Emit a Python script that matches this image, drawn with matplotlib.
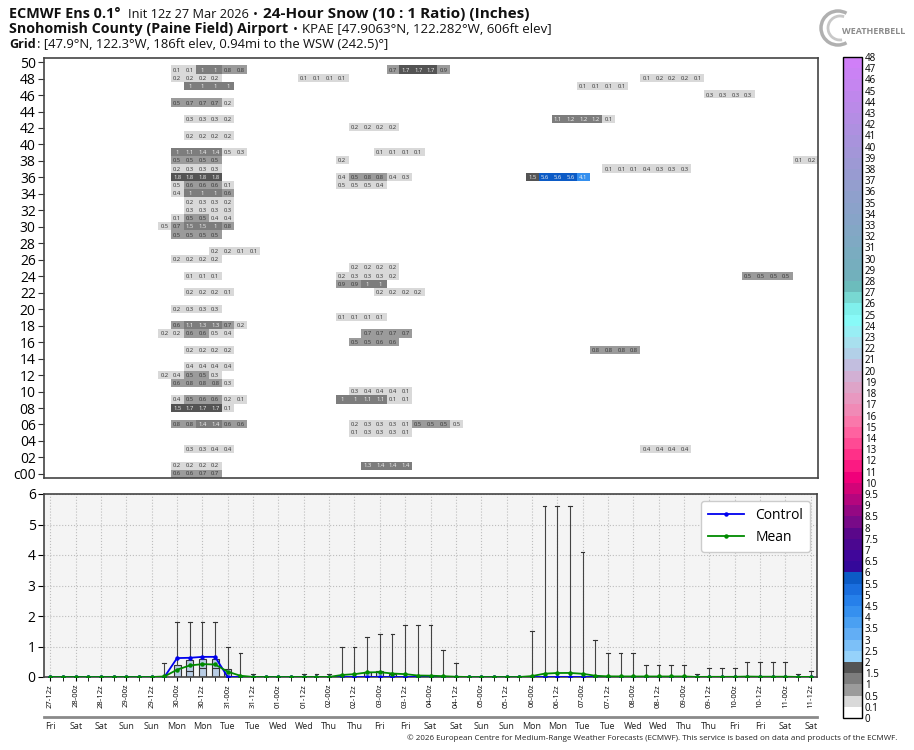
import numpy as np
import pandas as pd
import matplotlib
matplotlib.use('Agg')
import matplotlib.pyplot as plt
from matplotlib import font_manager
from matplotlib.colors import ListedColormap, BoundaryNorm, LinearSegmentedColormap, to_hex
from matplotlib.cm import ScalarMappable
from matplotlib.transforms import IdentityTransform
from matplotlib.patches import Arc


def weight_num(w):
    if isinstance(w, str):
        return font_manager.weight_dict.get(w, 400)
    return w


# pick a sans family that actually ships a bold face
candidates = ['Open Sans', 'Noto Sans', 'Lato', 'Roboto', 'DejaVu Sans']
families = {f.name for f in font_manager.fontManager.ttflist}
main_font = next(c for c in candidates if c in families)
bold_font = next(c for c in candidates
                 if any(f.name == c and weight_num(f.weight) >= 600
                        for f in font_manager.fontManager.ttflist))
plt.rcParams['font.family'] = [main_font, 'DejaVu Sans']

# ---------------------------------------------------------------- data
n_members = 51          # c00 + 50 perturbed members
n_steps = 61            # 6-hourly, 27-12z .. 11-12z
init_time = '2026-03-27 12:00'

# 24-hour snow (inches) per member: (member, first 6h step, values)
runs_late_march = [
    (49, 10, [0.1, 0.1, 1, 1, 0.8, 0.8]),
    (48, 10, [0.2, 0.2, 0.2, 0.2]),
    (47, 11, [1, 1, 1, 1]),
    (45, 10, [0.5, 0.7, 0.7, 0.7, 0.2]),
    (43, 11, [0.3, 0.3, 0.3, 0.2]),
    (41, 11, [0.2, 0.2, 0.2, 0.2]),
    (39, 10, [1, 1.1, 1.4, 1.4, 0.46, 0.3]),
    (38, 10, [0.5, 0.5, 0.5, 0.5]),
    (37, 10, [0.2, 0.3, 0.3, 0.3]),
    (36, 10, [1.8, 1.8, 1.8, 1.8]),
    (35, 10, [0.46, 0.6, 0.6, 0.6, 0.1]),
    (34, 10, [0.4, 1, 1, 1, 0.6]),
    (33, 11, [0.2, 0.3, 0.3, 0.2]),
    (32, 11, [0.3, 0.3, 0.3, 0.3]),
    (31, 10, [0.1, 0.5, 0.5, 0.4, 0.4]),
    (30, 9, [0.46, 0.7, 1.46, 1.46, 1, 0.8]),
    (29, 10, [0.5, 0.5, 0.5, 0.5]),
    (27, 13, [0.2, 0.2, 0.1, 0.1]),
    (26, 10, [0.2, 0.2, 0.2, 0.2]),
    (24, 11, [0.1, 0.1, 0.1]),
    (22, 11, [0.2, 0.2, 0.2, 0.1]),
    (20, 10, [0.2, 0.3, 0.3, 0.3]),
    (18, 10, [0.6, 1.1, 1.3, 1.3, 0.7, 0.2]),
    (17, 9, [0.2, 0.2, 0.6, 0.6, 0.46, 0.4]),
    (15, 11, [0.2, 0.2, 0.2, 0.2]),
    (13, 11, [0.4, 0.4, 0.4, 0.4]),
    (12, 9, [0.2, 0.4, 0.5, 0.5, 0.3]),
    (11, 10, [0.6, 0.8, 0.8, 0.8, 0.3]),
    (9, 10, [0.4, 0.5, 0.6, 0.6, 0.2, 0.1]),
    (8, 10, [1.5, 1.7, 1.7, 1.7, 0.1]),
    (6, 10, [0.8, 0.8, 1.4, 1.4, 0.6, 0.6]),
    (3, 11, [0.3, 0.3, 0.4, 0.4]),
    (1, 10, [0.2, 0.2, 0.2, 0.2]),
    (0, 10, [0.62, 0.63, 0.66, 0.66]),
]

runs_early_april = [
    (49, 27, [0.7, 1.7, 1.7, 1.7, 0.9]),
    (48, 20, [0.1, 0.1, 0.1, 0.1]),
    (42, 24, [0.2, 0.2, 0.2, 0.2]),
    (39, 26, [0.1, 0.1, 0.1, 0.1]),
    (38, 23, [0.2]),
    (36, 23, [0.4, 0.5, 0.8, 0.8, 0.4, 0.3]),
    (35, 23, [0.46, 0.46, 0.46, 0.4]),
    (25, 24, [0.2, 0.2, 0.2, 0.2]),
    (24, 23, [0.2, 0.3, 0.3, 0.3, 0.2]),
    (23, 23, [0.9, 0.9, 1, 1]),
    (22, 26, [0.2, 0.2, 0.2, 0.2]),
    (19, 23, [0.1, 0.1, 0.1, 0.1]),
    (17, 25, [0.7, 0.7, 0.7, 0.7]),
    (16, 24, [0.5, 0.5, 0.6, 0.6]),
    (10, 24, [0.3, 0.4, 0.4, 0.4, 0.1]),
    (9, 23, [1, 1, 1.1, 1.1, 0.1, 0.1]),
    (6, 24, [0.2, 0.3, 0.3, 0.3, 0.1, 0.5, 0.5, 0.5, 0.46]),
    (5, 24, [0.1, 0.3, 0.3, 0.3, 0.1]),
    (1, 25, [1.3, 1.4, 1.4, 1.4]),
]

runs_mid_april = [
    (48, 47, [0.1, 0.2, 0.2, 0.2, 0.1]),
    (47, 42, [0.1, 0.1, 0.1, 0.1]),
    (46, 52, [0.3, 0.3, 0.3, 0.3]),
    (43, 40, [1.1, 1.2, 1.2, 1.2, 0.1]),
    (38, 59, [0.1, 0.2]),
    (37, 44, [0.1, 0.1, 0.1, 0.4, 0.3, 0.3, 0.3]),
    (36, 38, [1.5, 5.6, 5.6, 5.6, 4.1]),
    (24, 55, [0.5, 0.5, 0.5, 0.5]),
    (15, 43, [0.8, 0.8, 0.8, 0.8]),
    (3, 47, [0.4, 0.4, 0.4, 0.4]),
]

# colour scale boundaries (inches)
levels = [0, 0.1] + list(np.arange(0.5, 10.01, 0.5)) + list(range(11, 49))

# ---------------------------------------------------------------- build grid
grid = np.zeros((n_members, n_steps))
for runs in (runs_late_march, runs_early_april, runs_mid_april):
    for member, start, vals in runs:
        grid[member, start:start + len(vals)] = vals

steps = np.arange(n_steps)
times = pd.date_range(init_time, periods=n_steps, freq='6h')
label_idx = steps[::2]
time_labels = [t.strftime('%d-%Hz') for t in times[::2]]
day_labels = [t.strftime('%a') for t in times[::2]]

control = grid[0]
ens_mean = grid.mean(axis=0)

# ---------------------------------------------------------------- colormap
base_cols = ['#ffffff', '#d9d9d9', '#9b9b9b', '#7d7d7d', '#545454',
             '#96d2fa', '#7cc0f8', '#62aef5', '#4aa0f2', '#3590ef', '#2680ea', '#1a6ede', '#0c5bc6',
             '#34089a', '#40069a', '#4b0790', '#5a078a', '#780a88', '#940883', '#b4067e', '#d20478',
             '#f0007a', '#fb1a82', '#ff3088', '#ff4a94', '#ff62a0', '#fa78ab', '#f08ab6', '#e898c0',
             '#dea4c8', '#d2b0d4', '#c2bedf', '#b2d0e8', '#a8e0ee', '#98eef4', '#88faf8', '#80f0ec',
             '#78d8d2', '#6cbcbc']
tail = LinearSegmentedColormap.from_list('tail', ['#72b0bc', '#9a9ad2', '#d07ff8'])
n_tail = len(levels) - 1 - len(base_cols)
tail_cols = [to_hex(tail(v)) for v in np.linspace(0, 1, n_tail)]
cmap = ListedColormap(base_cols + tail_cols)
norm = BoundaryNorm(levels, cmap.N)


def fmt_val(v):
    s = f'{v:.1f}'
    return s[:-2] if s.endswith('.0') else s


# ---------------------------------------------------------------- figure
W, H = 914, 750
fig = plt.figure(figsize=(W / 100, H / 100), dpi=100)


def px_axes(left, top, right, bottom):
    return fig.add_axes([left / W, 1 - bottom / H, (right - left) / W, (bottom - top) / H])


# ---- top panel: member grid
ax1 = px_axes(44, 58, 818, 478)
ax1.imshow(grid, cmap=cmap, norm=norm, origin='lower', aspect='auto',
           interpolation='nearest', extent=(-0.5, n_steps - 0.5, -0.5, n_members - 0.5))
rows, cols = np.nonzero(grid)
for r, c in zip(rows, cols):
    v = grid[r, c]
    ax1.text(c, r, fmt_val(v), ha='center', va='center', fontsize=4.2,
             color='#f2f2f2' if v >= 1 else '#333333')
ax1.set_xlim(-0.5, n_steps - 0.5)
ax1.set_ylim(-0.5, n_members - 0.5)
ax1.set_xticks([])
ax1.set_yticks(np.arange(0, n_members, 2))
ax1.set_yticklabels(['c00'] + [f'{m:02d}' for m in range(2, n_members, 2)])
ax1.tick_params(axis='y', labelsize=10, length=4, pad=2, color='#333')
for sp in ax1.spines.values():
    sp.set_color('#444')
    sp.set_linewidth(1.2)

# ---- bottom panel: box plot + control / mean
ax2 = px_axes(44, 494, 817, 677)
ax2.set_facecolor('#f4f4f4')
ax2.boxplot([grid[:, i] for i in steps], positions=steps, widths=0.55, whis=(0, 100),
            patch_artist=True, showfliers=False, manage_ticks=False, capwidths=0.3,
            boxprops=dict(facecolor='#b9cde5', edgecolor='#333333', linewidth=0.8),
            medianprops=dict(color='#333333', linewidth=0.8),
            whiskerprops=dict(color='#444444', linewidth=0.8),
            capprops=dict(color='#333333', linewidth=0.8))
ax2.plot(steps, control, color='#0000ee', lw=1.3, marker='o', ms=2.2, label='Control', zorder=4)
ax2.plot(steps, ens_mean, color='#008a00', lw=1.3, marker='o', ms=2.2, label='Mean', zorder=5)
ax2.set_xlim(-0.5, n_steps - 0.5)
ax2.set_ylim(0, 6)
ax2.set_yticks(range(0, 7))
ax2.set_xticks(label_idx)
ax2.set_xticklabels(time_labels, rotation=90, fontsize=5.5)
ax2.set_xticks(steps[1::2], minor=True)
ax2.tick_params(axis='y', labelsize=10, length=4, pad=2)
ax2.tick_params(axis='x', which='both', length=3, pad=2)
ax2.grid(True, which='major', color='#bdbdbd', linestyle=':', linewidth=0.8)
for sp in ax2.spines.values():
    sp.set_color('#444')
    sp.set_linewidth(1.2)
ax2.legend(loc='upper right', fontsize=10, framealpha=1, edgecolor='#cccccc',
           fancybox=True, handlelength=2.6, borderpad=0.5)

# day names on a second baseline
day_y = -(716.5 - 677) / (677 - 494)
ax2.plot([0, 1], [day_y, day_y], transform=ax2.transAxes, color='#8a8a8a', lw=2, clip_on=False)
for x, d in zip(label_idx, day_labels):
    ax2.text(x, day_y - 0.03, d, transform=ax2.get_xaxis_transform(), ha='center', va='top',
             fontsize=6.5, color='#222')

# ---- colour bar
cax = px_axes(843, 57, 862, 718)
cb = fig.colorbar(ScalarMappable(norm=norm, cmap=cmap), cax=cax, ticks=levels)
cb.ax.set_yticklabels([fmt_val(v) for v in levels])
cb.ax.tick_params(labelsize=7, length=0, pad=2)
cb.outline.set_linewidth(1)

# ---- titles: each piece placed at its pixel start and fitted to its width
renderer = fig.canvas.get_renderer()


def title_piece(txt, x0, x1, baseline, bold=False, base=9.5):
    fam = bold_font if bold else main_font
    t = fig.text(x0, H - baseline, txt, transform=IdentityTransform(), fontsize=base,
                 family=[fam, 'DejaVu Sans'], fontweight='bold' if bold else 'normal',
                 va='baseline', ha='left', color='#111')
    w = t.get_window_extent(renderer).width
    if x1 is not None and w > 0:
        t.set_fontsize(float(np.clip(base * (x1 - x0) / w, 8.5, 11)))


title_piece('ECMWF Ens 0.1°', 9, 122, 18, bold=True)
title_piece('Init 12z 27 Mar 2026', 128, 250, 18)
title_piece('•', 253, None, 18)
title_piece('24-Hour Snow (10 : 1 Ratio) (Inches)', 263, 573, 18, bold=True)
title_piece('Snohomish County (Paine Field) Airport', 9, 290, 33, bold=True)
title_piece('•', 293, None, 33)
title_piece('KPAE [47.9063°N, 122.282°W, 606ft elev]', 302, 553, 33)
title_piece('Grid', 9, 36, 48, bold=True)
title_piece(': [47.9°N, 122.3°W, 186ft elev, 0.94mi to the WSW (242.5)°]', 37, 390, 48)

# ---- logo stand-in
logo_ax = px_axes(812, 4, 904, 52)
logo_ax.set_xlim(0, 92)
logo_ax.set_ylim(48, 0)
logo_ax.axis('off')
logo_ax.add_patch(Arc((26, 24), 34, 34, theta1=60, theta2=300, color='#b0b0b0', lw=2.5))
logo_ax.add_patch(Arc((28, 24), 24, 24, theta1=80, theta2=290, color='#c8c8c8', lw=2))
logo_ax.text(62, 27, 'WEATHERBELL', ha='center', va='center', fontsize=6.5,
             fontweight='bold', color='#8c8c8c')

# ---- footer
fig.text(897 / W, 1 - 738 / H,
         '© 2026 European Centre for Medium-Range Weather Forecasts (ECMWF). '
         'This service is based on data and products of the ECMWF.',
         ha='right', va='center', fontsize=5.8, color='#222')

fig.savefig('out.png', dpi=100)
